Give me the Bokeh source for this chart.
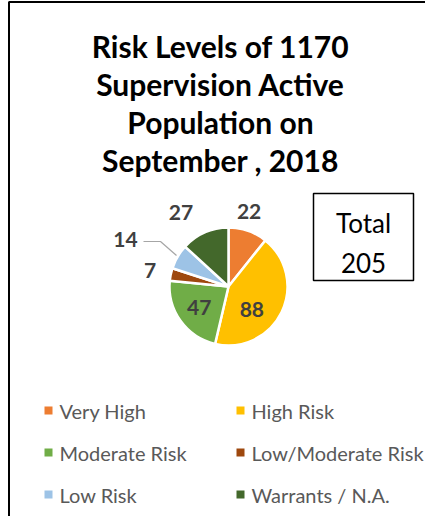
import math
from bokeh.plotting import figure
from bokeh.models import Range1d, ColumnDataSource
from bokeh.core.properties import value
from bokeh.embed import file_html
from bokeh.resources import INLINE

# ---- data ----
title_lines = ["Risk Levels of 1170", "Supervision Active", "Population on", "September , 2018"]
categories = ["Very High", "High Risk", "Moderate Risk", "Low/Moderate Risk", "Low Risk", "Warrants / N.A."]
counts = [22, 88, 47, 7, 14, 27]
colors = ["#ED7D31", "#FFC000", "#70AD47", "#9E480E", "#9DC3E6", "#43682B"]

W, H = 425, 516


def Y(img_y):
    return H - img_y


p = figure(width=W, height=H, x_range=Range1d(0, W), y_range=Range1d(0, H),
           output_backend="svg", toolbar_location=None, min_border=0)
p.axis.visible = False
p.xgrid.visible = False
p.ygrid.visible = False
p.outline_line_color = None
p.background_fill_color = "white"
p.border_fill_color = "white"

# frame (top and left edges visible in reference)
p.line([8, W], [Y(1.5), Y(1.5)], line_color="black", line_width=2)
p.line([8.5, 8.5], [0, Y(1.5)], line_color="black", line_width=2)

FONT = "Lato"

# title
for i, t in enumerate(title_lines):
    p.text(x=[220], y=[Y(45 + 38 * i)], text=[t], text_font=value(FONT), text_font_style="bold",
           text_font_size="30px", text_color="black", text_align="center", text_baseline="middle")

# pie
cx, cy, r = 228, Y(286), 59
total = sum(counts)
starts, ends, mids = [], [], []
cum = 0
for c in counts:
    a0 = math.pi / 2 - 2 * math.pi * cum / total
    cum += c
    a1 = math.pi / 2 - 2 * math.pi * cum / total
    starts.append(a0)
    ends.append(a1)
    mids.append((a0 + a1) / 2)

src = ColumnDataSource(dict(start=starts, end=ends, color=colors))
p.wedge(x=cx, y=cy, radius=r, start_angle="start", end_angle="end", direction="clock",
        fill_color="color", line_color="white", line_width=2.5, source=src)

# data labels: (radius, angle offset deg) per slice
label_pos = [(78, 4), (33, -19), (36, 0), (80, 0), (113, 0), (88, 9)]
lx, ly = [], []
for (rad, off), m in zip(label_pos, mids):
    a = m + math.radians(off)
    lx.append(cx + rad * math.cos(a))
    ly.append(cy + rad * math.sin(a))
# low risk label sits beside its leader line
lx[4], ly[4] = 125, Y(239)
p.text(x=lx, y=ly, text=[str(c) for c in counts], text_font=value(FONT), text_font_style="bold",
       text_font_size="21px", text_color="#404040", text_align="center", text_baseline="middle")

# leader line for the small slice label
p.line([143, 160, 176], [Y(241), Y(241), Y(255)], line_color="#A6A6A6", line_width=1.2)

# total box
p.rect(x=[363], y=[Y(236.5)], width=100, height=87, fill_color=None, line_color="black", line_width=1.5)
p.text(x=[363], y=[Y(222)], text=["Total"], text_font=value(FONT), text_font_size="26px",
       text_color="black", text_align="center", text_baseline="middle")
p.text(x=[363], y=[Y(262)], text=[str(total)], text_font=value(FONT), text_font_size="26px",
       text_color="black", text_align="center", text_baseline="middle")

# legend
col_x = [48, 240]
row_y = [410, 452, 494]
mx, my, tx = [], [], []
for i in range(len(categories)):
    cxl = col_x[i % 2]
    ry = row_y[i // 2]
    mx.append(cxl)
    my.append(Y(ry))
    tx.append(cxl + 11)
p.scatter(x=mx, y=my, marker="square", size=8, fill_color=colors, line_color=None)
p.text(x=tx, y=my, text=categories, text_font=value(FONT), text_font_size="20px",
       text_color="#595959", text_align="left", text_baseline="middle")

open("out.html", "w").write(file_html(p, INLINE))
